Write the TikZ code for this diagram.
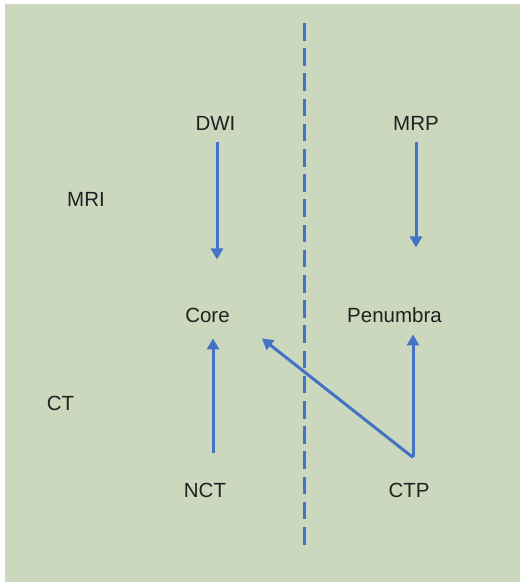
\documentclass[tikz,border=0pt]{standalone}
\usepackage{fontspec}
\setmainfont{Liberation Sans}
\usetikzlibrary{arrows.meta,positioning}
\definecolor{sage}{HTML}{CCD8BE}
\definecolor{flowblue}{HTML}{4472C4}
\definecolor{ink}{HTML}{231F20}

\begin{document}
\begin{tikzpicture}[x=1pt,y=-1pt,
  label/.style={inner sep=0pt,anchor=base,text=ink,
    font=\fontsize{20.5}{24}\selectfont},
  flow/.style={draw=flowblue,line width=3pt,
    -{Triangle[width=12pt,length=11pt]}},
  divider/.style={draw=flowblue,line width=3pt,
    dash pattern=on 17.5pt off 7.7pt}
]
\useasboundingbox (0,0) rectangle (520,582);
\fill[white] (0,0) rectangle (520,582);
\fill[sage] (5,4) rectangle (520,582);
% modality and tissue labels
\node[label] (dwi) at (215.5,130) {DWI};
\node[label] (mrp) at (416,130) {MRP};
\node[label] (mri) at (86,206) {MRI};
\node[label] (core) at (207.5,322) {Core};
\node[label] (penumbra) at (394.5,322) {Penumbra};
\node[label] (ct) at (60.5,410) {CT};
\node[label] (nct) at (205,497) {NCT};
\node[label] (ctp) at (409,497) {CTP};
% divider
\coordinate (divtop) at (304,23);
\coordinate (divbot) at (304,547);
\draw[divider] (divtop) -- (divbot);
% arrows
\draw[flow,shorten <=12pt,shorten >=48pt]
  ([xshift=1.5pt]dwi.south) -- ([xshift=1.5pt]dwi.south |- core.north);
\draw[flow,shorten <=12pt,shorten >=60pt]
  (mrp.south) -- (mrp.south |- core.north);
\draw[flow,shorten <=29pt,shorten >=16pt]
  ([xshift=8pt]nct.north) -- ([xshift=8pt]nct.north |- core.south);
\coordinate (ctpfoot) at ([xshift=4pt,yshift=25pt]ctp.north);
\coordinate (corefoot) at ([xshift=32pt,yshift=-16pt]core.south east);
\draw[flow,shorten >=12pt] (ctpfoot) -- (ctpfoot |- penumbra.south);
\draw[flow] (ctpfoot) -- (corefoot);
\end{tikzpicture}
\end{document}
